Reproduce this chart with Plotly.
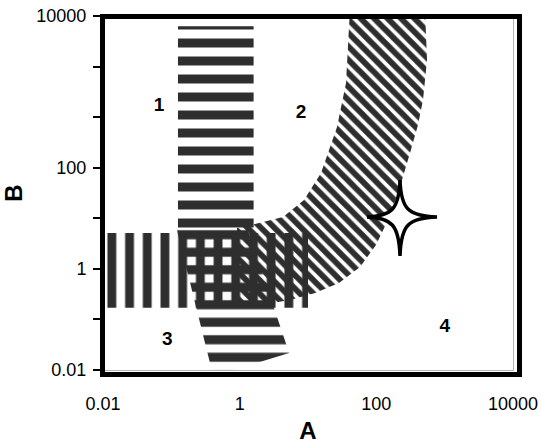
import plotly.graph_objects as go

# ---- axis ticks ----
A_TICKS = [0.01, 1, 100, 10000]
A_TICK_LABELS = ["0.01", "1", "100", "10000"]
B_TICKS = [1e-2, 1e-1, 1, 10, 100, 1e3, 1e4, 1e5]
B_TICK_LABELS = ["0.01", "", "1", "", "100", "", "", "10000"]

# ---- regions (data coordinates) ----
BAND1_A = [0.125, 1.6]          # vertical band, horizontal stripes
BAND1_B = [5.0, 6.3e4]
BAND2_A = [0.01, 10.0]          # horizontal band, vertical stripes
BAND2_B = [0.17, 5.1]
TILT_A = [0.117, 1.16, 5.3, 0.41]   # tilted band corners
TILT_B = [7.0, 9.7, 0.0217, 0.0076]
CURVE_INNER_A = [41.2, 39.8, 36.0, 26.6, 15.5, 8.74, 4.31, 1.92, 0.914]
CURVE_INNER_B = [1.3e5, 6.07e4, 4730, 638, 78.7, 23.0, 10.6, 8.07, 6.43]
CURVE_OUTER_A = [515, 552, 482, 407, 311, 215, 148, 98.9, 57.7, 28.4, 12.7, 5.46, 1.99, 0.914]
CURVE_OUTER_B = [1.3e5, 13500, 2180, 700, 195, 36.2, 9.25, 2.96, 1.09, 0.525, 0.333, 0.242, 0.193, 0.168]

REGION_LABELS = ["1", "2", "3", "4"]
REGION_A = [0.066, 7.9, 0.087, 1000]
REGION_B = [1660, 1200, 0.039, 0.071]

STAR_A = 222
STAR_B = 10.6

INK = "#2e2e2e"
FONT = "Liberation Sans, Arial, sans-serif"


def pattern(shape, size, solidity):
    return dict(shape=shape, size=size, solidity=solidity,
                fgcolor=INK, bgcolor="rgba(0,0,0,0)", fillmode="replace")


fig = go.Figure()

# band 1
fig.add_trace(go.Scatter(
    x=[BAND1_A[0], BAND1_A[1], BAND1_A[1], BAND1_A[0]],
    y=[BAND1_B[0], BAND1_B[0], BAND1_B[1], BAND1_B[1]],
    mode="none", fill="toself", fillcolor="rgba(0,0,0,0)",
    fillpattern=pattern("-", 18, 0.5), hoverinfo="skip"))
# band 2
fig.add_trace(go.Scatter(
    x=[BAND2_A[0], BAND2_A[1], BAND2_A[1], BAND2_A[0]],
    y=[BAND2_B[0], BAND2_B[0], BAND2_B[1], BAND2_B[1]],
    mode="none", fill="toself", fillcolor="rgba(0,0,0,0)",
    fillpattern=pattern("|", 17.7, 0.5), hoverinfo="skip"))
# tilted band
fig.add_trace(go.Scatter(
    x=TILT_A, y=TILT_B,
    mode="none", fill="toself", fillcolor="rgba(0,0,0,0)",
    fillpattern=pattern("-", 17.5, 0.52), hoverinfo="skip"))
# curved band
fig.add_trace(go.Scatter(
    x=CURVE_INNER_A + CURVE_OUTER_A[::-1],
    y=CURVE_INNER_B + CURVE_OUTER_B[::-1],
    mode="none", fill="toself", fillcolor="rgba(0,0,0,0)",
    fillpattern=pattern("\\", 9.5, 0.62), hoverinfo="skip"))

# region labels
fig.add_trace(go.Scatter(
    x=REGION_A, y=REGION_B, mode="text", text=REGION_LABELS,
    textfont=dict(family=FONT, size=19, color="black", weight="bold"),
    hoverinfo="skip"))

# star marker (pixel-sized path anchored at data point)
fig.add_shape(type="path", xref="x", yref="y",
              xsizemode="pixel", ysizemode="pixel",
              xanchor=STAR_A, yanchor=STAR_B,
              path=("M 0,37 C 1,8 8,1 37,0 C 8,-1 1,-8 0,-39 "
                    "C -1,-8 -8,-1 -33,0 C -8,1 -1,8 0,37 Z"),
              fillcolor="white", line=dict(color="black", width=3.5), layer="above")

# thick outer frame
fig.add_shape(type="rect", xref="paper", yref="paper",
              x0=-0.0012, x1=1.0159, y0=-0.0127, y1=0.9986,
              line=dict(color="black", width=5), fillcolor="rgba(0,0,0,0)", layer="above")

fig.update_layout(
    width=541, height=444,
    margin=dict(l=103, r=28, t=16, b=74),
    paper_bgcolor="white", plot_bgcolor="white",
    showlegend=False,
    font=dict(family=FONT, color="black"),
)
fig.update_xaxes(
    type="log", range=[-2, 4],
    tickvals=A_TICKS, ticktext=A_TICK_LABELS,
    ticks="", showgrid=False, zeroline=False,
    showline=True, linecolor="#b5b5b5", linewidth=1, mirror=True,
    tickfont=dict(size=18, family=FONT, color="black"),
    ticklabelstandoff=17,
    title=dict(text="A", font=dict(size=24, family=FONT, color="black", weight="bold"), standoff=12),
    automargin=False,
)
fig.update_yaxes(
    type="log", range=[-2, 5],
    tickvals=B_TICKS, ticktext=B_TICK_LABELS,
    ticks="outside", ticklen=9, tickwidth=1.5, tickcolor="black",
    showgrid=False, zeroline=False,
    showline=True, linecolor="#b5b5b5", linewidth=1, mirror=True,
    tickfont=dict(size=18, family=FONT, color="black"),
    ticklabelstandoff=3,
    title=dict(text="B", font=dict(size=24, family=FONT, color="black", weight="bold"), standoff=12),
    automargin=False,
)

fig.write_html("out.html")
